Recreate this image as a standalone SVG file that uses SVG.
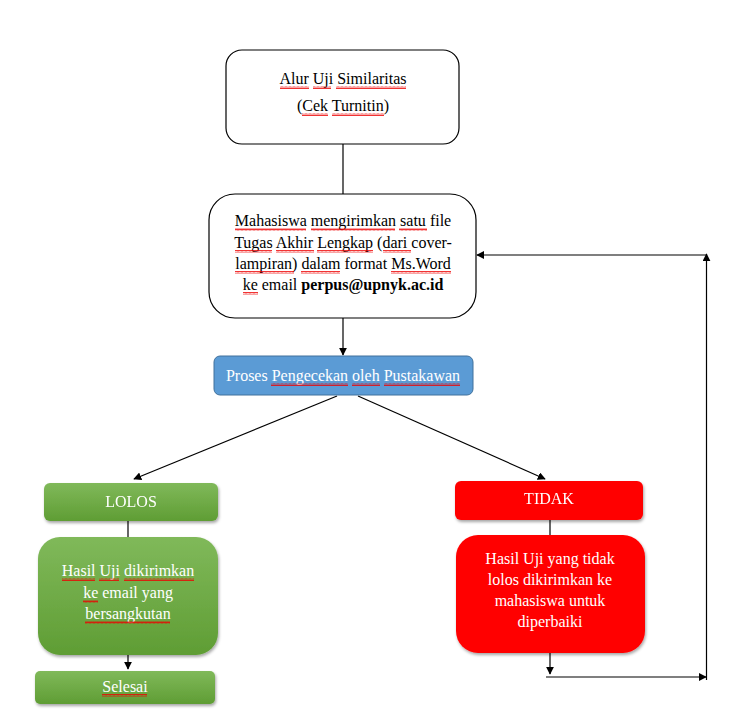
<svg xmlns="http://www.w3.org/2000/svg" width="729" height="727" viewBox="0 0 729 727">
<defs>
<style>
text{font-family:"Liberation Serif","Times New Roman",serif;font-size:16px;text-anchor:middle}
.w{fill:#fff}
.k{fill:#000}
.box{fill:#fff;stroke:#000;stroke-width:1.2}
.ln{stroke:#000;stroke-width:1.2;fill:none}
.sq{fill:url(#wave)}
</style>
<linearGradient id="g" x1="0" y1="0" x2="0" y2="1">
<stop offset="0" stop-color="#80b95a"/><stop offset="1" stop-color="#5f9d34"/>
</linearGradient>
<filter id="sh" x="-10%" y="-10%" width="125%" height="130%">
<feDropShadow dx="1" dy="2" stdDeviation="1.5" flood-color="#000" flood-opacity="0.35"/>
</filter>
<marker id="ar" viewBox="0 0 10 10" refX="9" refY="5" markerWidth="8" markerHeight="8" orient="auto" markerUnits="userSpaceOnUse">
<path d="M0,0 L10,5 L0,10 z" fill="#000"/>
</marker>
<pattern id="wave" width="4" height="3" patternUnits="userSpaceOnUse">
<path d="M0,2.5 L1,0.5 L2,2.5 L3,0.5 L4,2.5" stroke="#e00" stroke-width="0.8" fill="none"/>
</pattern>
</defs>

<g id="connectors">
<line class="ln" x1="343" y1="144" x2="343" y2="195"/>
<line class="ln" x1="343" y1="318" x2="343" y2="355" marker-end="url(#ar)"/>
<line class="ln" x1="337" y1="396" x2="134" y2="479" marker-end="url(#ar)"/>
<line class="ln" x1="358" y1="396" x2="545" y2="479" marker-end="url(#ar)"/>
<line class="ln" x1="128" y1="521" x2="128" y2="538"/>
<line class="ln" x1="128" y1="655" x2="128" y2="669" marker-end="url(#ar)"/>
<line class="ln" x1="550" y1="520" x2="550" y2="536"/>
<line class="ln" x1="550" y1="653" x2="550" y2="674" marker-end="url(#ar)"/>
<line class="ln" x1="546" y1="677" x2="706" y2="677" marker-end="url(#ar)"/>
<line class="ln" x1="706.5" y1="680" x2="706.5" y2="254" marker-end="url(#ar)"/>
<line class="ln" x1="706" y1="255" x2="477" y2="255" marker-end="url(#ar)"/>
</g>

<g id="title">
<rect class="box" x="226" y="50" width="233" height="94" rx="16"/>
<text x="343" y="84" class="k"><tspan>Alur</tspan> <tspan>Uji</tspan> <tspan>Similaritas</tspan></text>
<text x="343" y="111" class="k">(<tspan>Cek</tspan> <tspan>Turnitin</tspan>)</text>
<rect class="sq" x="280" y="86" width="29" height="3"/>
<rect class="sq" x="313" y="86" width="18" height="3"/>
<rect class="sq" x="336" y="86" width="70" height="3"/>
<rect class="sq" x="302" y="113" width="26" height="3"/>
<rect class="sq" x="332" y="113" width="52" height="3"/>
</g>

<g id="kirim">
<rect class="box" x="209" y="194" width="267" height="124" rx="26"/>
<text x="343" y="226" class="k"><tspan>Mahasiswa</tspan> <tspan>mengirimkan</tspan> <tspan>satu</tspan> file</text>
<text x="343" y="248" class="k"><tspan>Tugas</tspan> <tspan>Akhir</tspan> <tspan>Lengkap</tspan> (<tspan>dari</tspan> cover-</text>
<text x="343" y="269" class="k"><tspan>lampiran</tspan>) <tspan>dalam</tspan> format <tspan>Ms.Word</tspan></text>
<text x="343" y="290" class="k"><tspan>ke</tspan> email <tspan font-weight="bold">perpus@upnyk.ac.id</tspan></text>
<rect class="sq" x="235" y="228" width="71" height="3"/>
<rect class="sq" x="311" y="228" width="84" height="3"/>
<rect class="sq" x="399" y="228" width="28" height="3"/>
<rect class="sq" x="235" y="250" width="37" height="3"/>
<rect class="sq" x="276" y="250" width="38" height="3"/>
<rect class="sq" x="317" y="250" width="56" height="3"/>
<rect class="sq" x="383" y="250" width="28" height="3"/>
<rect class="sq" x="235" y="271" width="59" height="3"/>
<rect class="sq" x="301" y="271" width="39" height="3"/>
<rect class="sq" x="391" y="271" width="60" height="3"/>
<rect class="sq" x="243" y="292" width="15" height="3"/>
</g>

<g id="proses">
<rect x="214" y="356" width="259" height="39" rx="6" fill="#5b9bd5" stroke="#41719c" stroke-width="1"/>
<text x="343" y="381" class="w">Proses <tspan>Pengecekan</tspan> <tspan>oleh</tspan> <tspan>Pustakawan</tspan></text>
<rect class="sq" x="271" y="383" width="77" height="3"/>
<rect class="sq" x="352" y="383" width="28" height="3"/>
<rect class="sq" x="384" y="383" width="76" height="3"/>
</g>

<g id="lolos" filter="url(#sh)">
<rect x="44" y="483" width="174" height="38" rx="6" fill="url(#g)"/>
<text x="131" y="507" class="w">LOLOS</text>
</g>

<g id="hasil-lolos">
<rect x="38" y="537" width="180" height="118" rx="22" fill="url(#g)" filter="url(#sh)"/>
<text x="128" y="576" class="w"><tspan>Hasil</tspan> <tspan>Uji</tspan> <tspan>dikirimkan</tspan></text>
<text x="128" y="598" class="w"><tspan>ke</tspan> email  yang</text>
<text x="128" y="619" class="w"><tspan>bersangkutan</tspan></text>
<rect class="sq" x="62" y="578" width="33" height="3"/>
<rect class="sq" x="99" y="578" width="20" height="3"/>
<rect class="sq" x="124" y="578" width="70" height="3"/>
<rect class="sq" x="83" y="600" width="15" height="3"/>
<rect class="sq" x="85" y="621" width="85" height="3"/>
</g>

<g id="selesai">
<rect x="35" y="671" width="180" height="33" rx="5" fill="url(#g)" filter="url(#sh)"/>
<text x="125" y="692" class="w"><tspan>Selesai</tspan></text>
<rect class="sq" x="102" y="694" width="45" height="3"/>
</g>

<g id="tidak" filter="url(#sh)">
<rect x="455" y="481" width="188" height="39" rx="6" fill="#ff0000"/>
<text x="549" y="504" class="w">TIDAK</text>
</g>

<g id="hasil-tidak">
<rect x="456" y="535" width="189" height="118" rx="22" fill="#ff0000" filter="url(#sh)"/>
<text x="550" y="564" class="w">Hasil Uji yang tidak</text>
<text x="550" y="585" class="w">lolos dikirimkan ke</text>
<text x="550" y="606" class="w">mahasiswa untuk</text>
<text x="550" y="627" class="w">diperbaiki</text>
</g>
</svg>
